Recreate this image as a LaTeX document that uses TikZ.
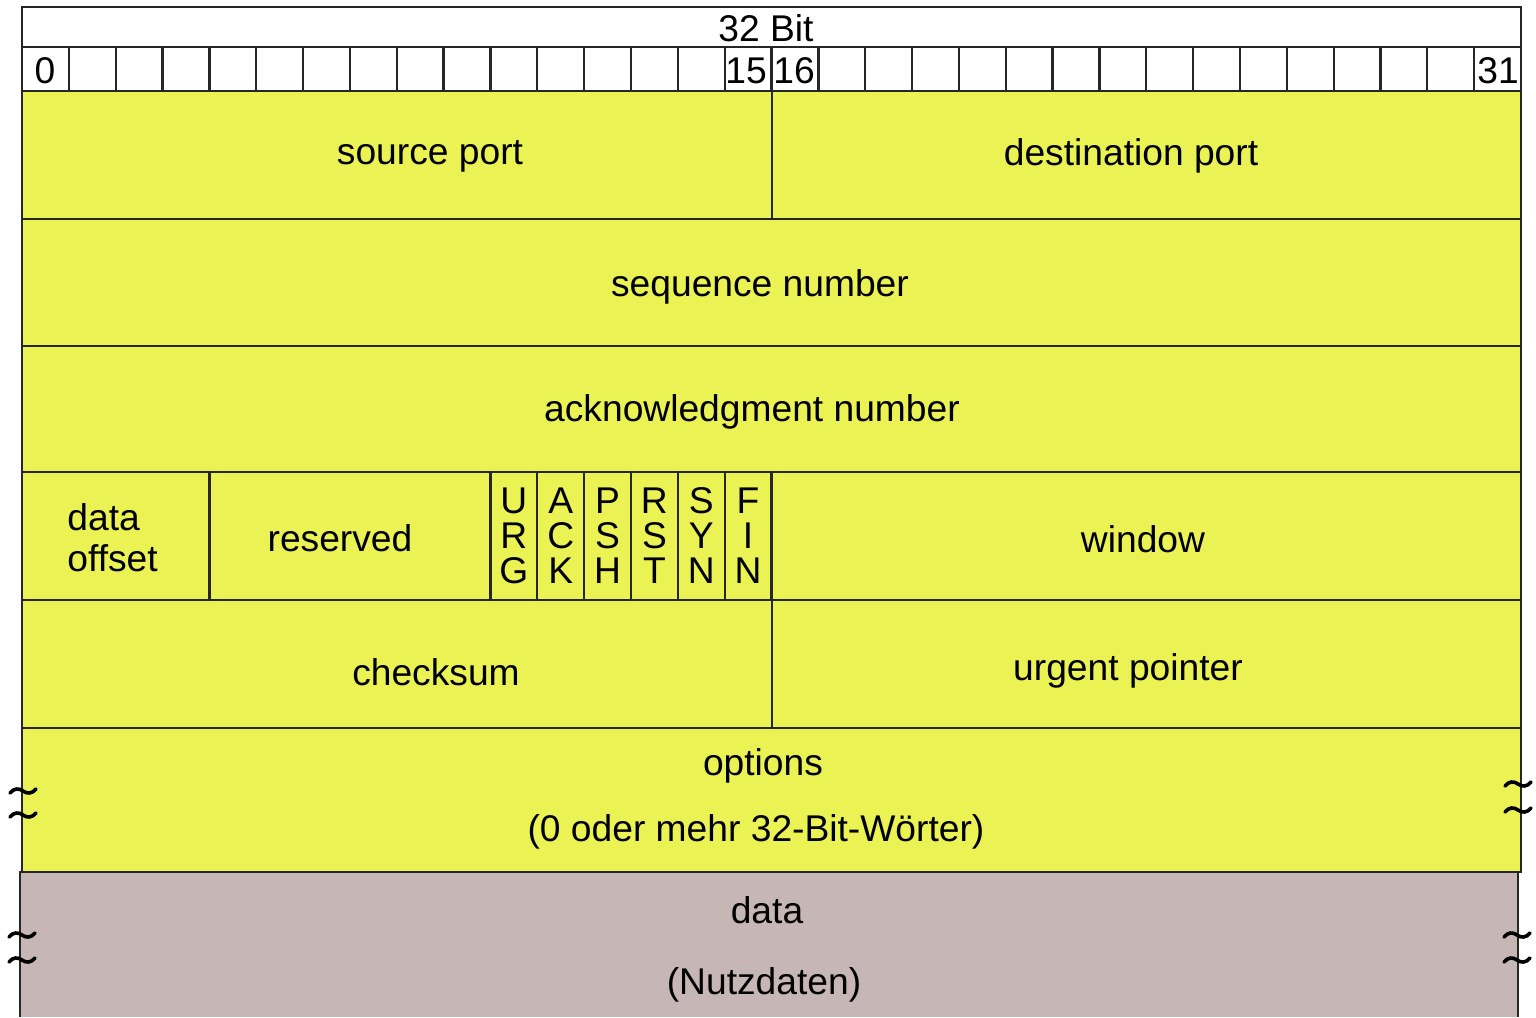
\documentclass[tikz,border=0pt]{standalone}
\usepackage{fontspec}
\setmainfont{Liberation Sans}
\definecolor{tcpyellow}{RGB}{235,242,84}
\definecolor{tcpdata}{RGB}{198,182,182}
\newcommand\wavymark[2]{\draw[squig] ({#1-13},{#2+2}) .. controls ({#1-9},{#2-3}) and ({#1-4},{#2-3}) .. ({#1},{#2}) .. controls ({#1+4},{#2+3}) and ({#1+9},{#2+3}) .. ({#1+13},{#2-2});}
\begin{document}
\begin{tikzpicture}[x=0.5pt,y=-0.5pt,
  grid/.style={draw=black!85,line width=1.15pt},
  lbl/.style={font=\fontsize{18.6}{22}\selectfont,inner sep=0pt,anchor=center},
  flag/.style={lbl,align=center,font=\fontsize{18.6}{17.5}\selectfont},
  squig/.style={line width=1.8pt,line cap=round}]
\useasboundingbox (0,0) rectangle (1536,1017);
\fill[white] (0,0) rectangle (1536,1017);
% fills
\fill[tcpyellow] (22,91) rectangle (1521,872);
\fill[tcpdata] (20,872) rectangle (1518,1017);
% header
\draw[grid] (22,7) rectangle (1521,91);
\draw[grid] (22,47) -- (1521,47);
\foreach \k in {1,...,31} \draw[grid] ({22+\k*46.844},47) -- ({22+\k*46.844},91);
% rows
\draw[grid] (22,91) rectangle (1521,872);
\foreach \yy in {219,346,472,600,728} \draw[grid] (22,\yy) -- (1521,\yy);
\draw[grid] (772,91) -- (772,219);
\draw[grid] (772,600) -- (772,728);
\draw[grid] (209.4,472) -- (209.4,600);
\foreach \k in {10,...,16} \draw[grid] ({22+\k*46.844},472) -- ({22+\k*46.844},600);
% data row
\draw[grid] (20,1017) -- (20,872) -- (1518,872) -- (1518,1017);
% header texts
\node[lbl] (hdr) at (766,28) {32 Bit};
\node[lbl] (b0) at (45,71) {0};
\node[lbl] (b15) at (746,71) {15};
\node[lbl] (b16) at (794,71) {16};
\node[lbl] (b31) at (1498,71) {31};
% fields
\node[lbl] (sp) at (430,156) {source port};
\node[lbl] (dp) at (1131,156) {destination port};
\node[lbl] (seq) at (760,287) {sequence number};
\node[lbl] (ack) at (752,412) {acknowledgment number};
\node[lbl,anchor=west,align=left,font=\fontsize{18.6}{20.5}\selectfont] (off) at (67,538) {data\\offset};
\node[lbl] (res) at (340,538) {reserved};
\node[flag] (urg) at (513.8,536) {U\\R\\G};
\node[flag] (fack) at (560.7,536) {A\\C\\K};
\node[flag] (psh) at (607.5,536) {P\\S\\H};
\node[flag] (rst) at (654.4,536) {R\\S\\T};
\node[flag] (syn) at (701.2,536) {S\\Y\\N};
\node[flag] (fin) at (748.1,536) {F\\I\\N};
\node[lbl] (win) at (1143,539) {window};
\node[lbl] (chk) at (436,672) {checksum};
\node[lbl] (urp) at (1128,671) {urgent pointer};
\node[lbl] (opt) at (763,766) {options};
\node[lbl] (optb) at (756,832) {(0 oder mehr 32-Bit-Wörter)};
\node[lbl] (dat) at (767,910) {data};
\node[lbl] (datb) at (764,985) {(Nutzdaten)};
% break marks
\wavymark{23}{791}
\wavymark{23}{815}
\wavymark{1518}{784}
\wavymark{1518}{810}
\wavymark{22}{935}
\wavymark{22}{960}
\wavymark{1517}{935}
\wavymark{1517}{960}
\end{tikzpicture}
\end{document}
